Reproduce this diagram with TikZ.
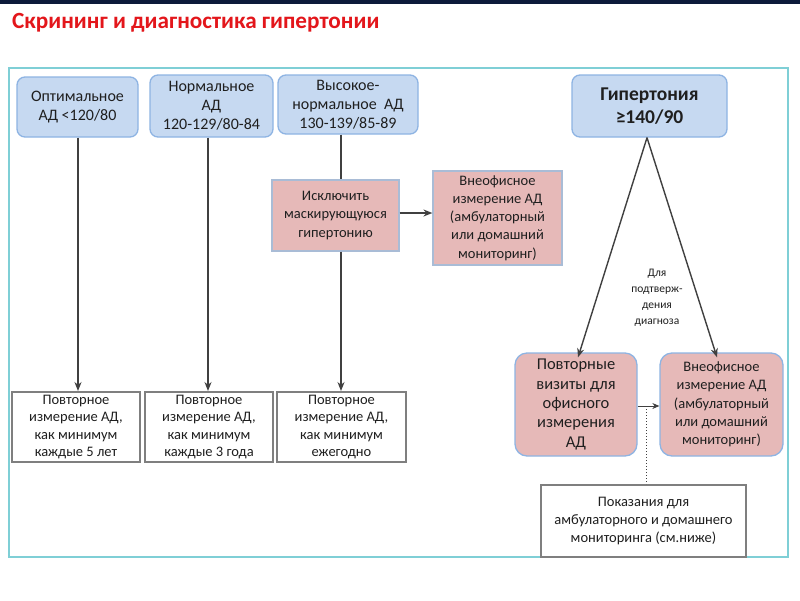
\documentclass[tikz,border=0pt]{standalone}
\usepackage{fontspec}
\setmainfont{Carlito}
\usetikzlibrary{arrows.meta,calc}
\definecolor{navy}{HTML}{0D1A3A}
\definecolor{titlered}{HTML}{E3161B}
\definecolor{framecyan}{HTML}{7FCFD6}
\definecolor{bluefill}{HTML}{C6D9F1}
\definecolor{blueline}{HTML}{8EB4E3}
\definecolor{pinkfill}{HTML}{E6B9B8}
\definecolor{pinkline}{HTML}{A9BCD6}
\definecolor{greybox}{HTML}{7F7F7F}
\definecolor{arrowc}{HTML}{404040}
\definecolor{txt}{HTML}{1F1F1F}
\tikzset{
  bluebox/.style={rounded corners=8pt, fill=bluefill, draw=blueline, line width=1.3pt,
    align=center, inner sep=0pt, text=txt, font=\fontsize{16}{19}\selectfont},
  pinksq/.style={fill=pinkfill, draw=pinkline, line width=1.2pt,
    align=center, inner sep=0pt, text=txt, font=\fontsize{14.5}{18.2}\selectfont},
  pinkround/.style={rounded corners=12pt, fill=pinkfill, draw=blueline, line width=1.3pt,
    align=center, inner sep=0pt, text=txt, font=\fontsize{14.5}{18.3}\selectfont},
  whitebox/.style={fill=white, draw=greybox, line width=2pt,
    align=center, inner sep=0pt, text=txt, font=\fontsize{14.5}{17.6}\selectfont},
  conn/.style={draw=arrowc, line width=1.4pt},
  arr/.style={conn, -{Stealth[length=9pt,width=7pt]}},
}
\begin{document}
\begin{tikzpicture}[x=1pt,y=-1pt]
\useasboundingbox (0,0) rectangle (800,600);
\fill[white] (0,0) rectangle (800,600);
\fill[navy] (0,0) rectangle (800,3.5);
\node[anchor=west, text=titlered, font=\fontsize{23.2}{26}\selectfont\bfseries, inner sep=0pt] (title) at (12,23) {Скрининг и диагностика гипертонии};
\draw[framecyan, line width=2pt] (9,68) rectangle (788,557);

% top row
\node[bluebox, minimum width=121pt, minimum height=60pt] (b1) at (77.5,107) {Оптимальное\\АД <120/80};
\node[bluebox, minimum width=123pt, minimum height=62pt] (b2) at (211.5,106) {Нормальное\\АД\\120-129/80-84};
\node[bluebox, minimum width=140pt, minimum height=59pt] (b3) at (348,104.5) {Высокое-\\нормальное~ АД\\130-139/85-89};
\node[bluebox, minimum width=155pt, minimum height=62pt, font=\fontsize{19.5}{23}\selectfont\bfseries] (b4) at (649.5,106) {Гипертония\\≥140/90};

% pink square boxes
\node[pinksq, minimum width=127pt, minimum height=71pt] (p1) at (335.5,215.5) {Исключить\\маскирующуюся\\гипертонию};
\node[pinksq, minimum width=129pt, minimum height=94pt] (p2) at (497.5,218) {Внеофисное\\измерение АД\\(амбулаторный\\или домашний\\мониторинг)};

% bottom boxes
\node[whitebox, minimum width=128pt, minimum height=70pt] (w1) at (76,427) {Повторное\\измерение АД,\\как минимум\\каждые 5 лет};
\node[whitebox, minimum width=128pt, minimum height=70pt] (w2) at (209,427) {Повторное\\измерение АД,\\как минимум\\каждые 3 года};
\node[whitebox, minimum width=129pt, minimum height=70pt] (w3) at (341.5,427) {Повторное\\измерение АД,\\как минимум\\ежегодно};

% right side
\node[pinkround, minimum width=122pt, minimum height=103pt, font=\fontsize{16.5}{19.3}\selectfont] (r1) at (576,404.5) {Повторные\\визиты для\\офисного\\измерения\\АД};
\node[pinkround, minimum width=123pt, minimum height=103pt] (r2) at (721.5,404.5) {Внеофисное\\измерение АД\\(амбулаторный\\или домашний\\мониторинг)};
\node[whitebox, minimum width=205pt, minimum height=72pt, font=\fontsize{14.5}{18}\selectfont] (wr) at (643.5,521) {Показания для\\амбулаторного и домашнего\\мониторинга (см.ниже)};

\node[align=center, text=txt, font=\fontsize{11.5}{16}\selectfont, inner sep=0pt] (lab) at (657,297.5) {Для\\подтверж-\\дения\\диагноза};

% connectors
\draw[arr] (b1.south -| 78,0) -- (w1.north -| 78,0);
\draw[arr] (b2.south -| 208,0) -- (w2.north -| 208,0);
\draw[conn] (b3.south -| 341,0) -- (p1.north -| 341,0);
\draw[arr] (p1.south -| 341,0) -- (w3.north -| 341,0);
\draw[arr] (p1.east |- 0,213) -- (p2.west |- 0,213);

\coordinate (apex) at (b4.south -| 647,0);
\draw[arr] (apex) -- ([xshift=2pt,yshift=-5pt]r1.north);
\draw[arr] (apex) -- ([xshift=-4.5pt,yshift=-5pt]r2.north);
\draw[conn, line width=1pt, -{Stealth[length=7pt,width=6pt]}] (r1.east |- 0,406) -- (r2.west |- 0,406);
\coordinate (dj) at (646,406);
\draw[draw=arrowc, line width=1pt, dotted] (dj) -- (dj |- wr.north);
\end{tikzpicture}
\end{document}
